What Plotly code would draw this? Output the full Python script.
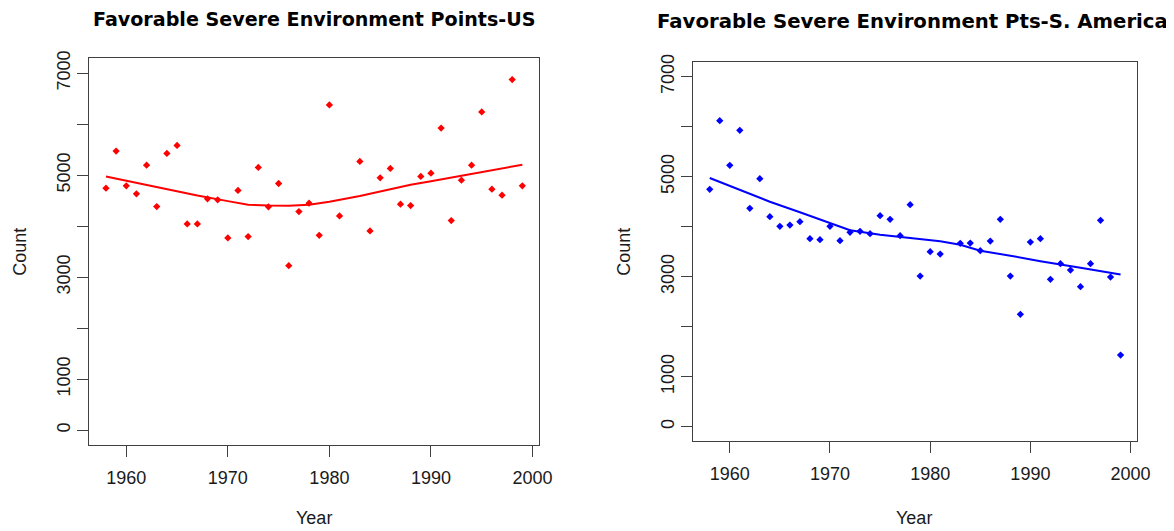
import plotly.graph_objects as go

# ---------------- data ----------------
years = [1958, 1959, 1960, 1961, 1962, 1963, 1964, 1965, 1966, 1967, 1968, 1969,
         1970, 1971, 1972, 1973, 1974, 1975, 1976, 1977, 1978, 1979, 1980, 1981,
         1983, 1984, 1985, 1986, 1987, 1988, 1989, 1990, 1991, 1992, 1993, 1994,
         1995, 1996, 1997, 1998, 1999]

us_counts = [4745, 5471, 4790, 4633, 5196, 4384, 5426, 5583, 4044, 4044, 4535, 4515,
             3769, 4699, 3795, 5151, 4378, 4836, 3225, 4286, 4450, 3821, 6375, 4201,
             5269, 3906, 4948, 5131, 4430, 4404, 4974, 5039, 5923, 4109, 4902, 5196,
             6238, 4725, 4607, 6873, 4790]

sa_counts = [4747, 6120, 5227, 5927, 4367, 4960, 4200, 4007, 4033, 4100, 3760, 3740,
             4007, 3720, 3887, 3907, 3860, 4220, 4147, 3820, 4440, 3013, 3500, 3453,
             3667, 3673, 3520, 3713, 4147, 3013, 2247, 3693, 3760, 2947, 3260, 3133,
             2800, 3260, 4127, 2993, 1433]

us_smooth_years = [1958, 1961, 1964, 1967, 1970, 1972, 1974, 1976, 1978, 1980, 1983,
                   1986, 1988, 1990, 1993, 1995, 1997, 1999]
us_smooth = [4975, 4845, 4720, 4600, 4490, 4420, 4405, 4400, 4420, 4480, 4590,
             4720, 4810, 4880, 4985, 5070, 5130, 5205]

sa_smooth_years = [1958, 1961, 1964, 1967, 1970, 1972, 1975, 1979, 1981, 1983, 1985,
                   1988, 1991, 1995, 1999]
sa_smooth = [4975, 4730, 4500, 4290, 4080, 3930, 3840, 3750, 3710, 3640, 3520,
             3420, 3310, 3180, 3045]

x_ticks = [1960, 1970, 1980, 1990, 2000]
y_ticks = [0, 1000, 2000, 3000, 4000, 5000, 6000, 7000]
y_ticktext = ["0", "1000", "", "3000", "", "5000", "", "7000"]

title_us = "Favorable Severe Environment Points-US"
title_sa = "Favorable Severe Environment Pts-S. America"

# ---------------- layout helpers ----------------
# the page body has an 8px default margin, so the figure sits at (8, 8)
OFF = 8
W, H = 1174 - OFF, 531 - OFF


def px_x(p):
    return (p - OFF) / W


def px_y(p):
    return 1 - (p - OFF) / H


LINE = "#404040"
TEXT = "#1a1a1a"
TICKFONT = dict(family="Liberation Sans, Arial, sans-serif", size=18, color=TEXT)

fig = go.Figure()

fig.add_trace(go.Scatter(x=years, y=us_counts, mode="markers",
                         marker=dict(symbol="diamond", size=5.6, color="#ff0000"),
                         xaxis="x", yaxis="y", showlegend=False))
fig.add_trace(go.Scatter(x=us_smooth_years, y=us_smooth, mode="lines",
                         line=dict(color="#ff0000", width=2),
                         xaxis="x", yaxis="y", showlegend=False))
fig.add_trace(go.Scatter(x=years, y=sa_counts, mode="markers",
                         marker=dict(symbol="diamond", size=5.6, color="#0000ff"),
                         xaxis="x2", yaxis="y2", showlegend=False))
fig.add_trace(go.Scatter(x=sa_smooth_years, y=sa_smooth, mode="lines",
                         line=dict(color="#0000ff", width=2),
                         xaxis="x2", yaxis="y2", showlegend=False))

xcommon = dict(range=[1956.36, 2000.64], tickmode="array", tickvals=x_ticks,
               ticks="outside", ticklen=11, tickcolor=LINE, tickwidth=1,
               ticklabelstandoff=5,
               showline=True, mirror=True, linecolor=LINE, linewidth=1,
               showgrid=False, zeroline=False, tickfont=TICKFONT, automargin=False)
ycommon = dict(range=[-290, 7290], tickmode="array", tickvals=y_ticks,
               ticktext=y_ticktext, tickangle=-90,
               ticks="outside", ticklen=11, tickcolor=LINE, tickwidth=1,
               showline=True, mirror=True, linecolor=LINE, linewidth=1,
               showgrid=False, zeroline=False, tickfont=TICKFONT, automargin=False)

# panel boxes in page pixels: left x 89.3..539, y 58.3..445 ; right x 693.3..1137, y 62.2..441.2
fig.update_layout(
    width=W, height=H,
    margin=dict(l=0, r=0, t=0, b=0),
    paper_bgcolor="white", plot_bgcolor="white",
    xaxis=dict(domain=[px_x(89.3), px_x(539)], anchor="y", **xcommon),
    yaxis=dict(domain=[px_y(445), px_y(58.3)], anchor="x", **ycommon),
    xaxis2=dict(domain=[px_x(693.3), px_x(1137)], anchor="y2", **xcommon),
    yaxis2=dict(domain=[px_y(441.2), px_y(62.2)], anchor="x2", **ycommon),
)

ann = []
ann.append(dict(text="<b>" + title_us + "</b>", x=px_x(313.5), y=px_y(19),
                xref="paper", yref="paper", xanchor="center", yanchor="middle",
                showarrow=False,
                font=dict(family="DejaVu Sans", size=19.1, color="#000000")))
ann.append(dict(text="<b>" + title_sa + "</b>", x=px_x(912), y=px_y(21),
                xref="paper", yref="paper", xanchor="center", yanchor="middle",
                showarrow=False,
                font=dict(family="DejaVu Sans", size=19.7, color="#000000")))
for cx in (314, 914):
    ann.append(dict(text="Year", x=px_x(cx), y=px_y(518), xref="paper", yref="paper",
                    xanchor="center", yanchor="middle", showarrow=False,
                    font=TICKFONT))
for cx, cy in ((20, 251.7), (624, 251.7)):
    ann.append(dict(text="Count", x=px_x(cx), y=px_y(cy), xref="paper", yref="paper",
                    xanchor="center", yanchor="middle", showarrow=False, textangle=-90,
                    font=TICKFONT))
fig.update_layout(annotations=ann)

fig.write_html("out.html")
